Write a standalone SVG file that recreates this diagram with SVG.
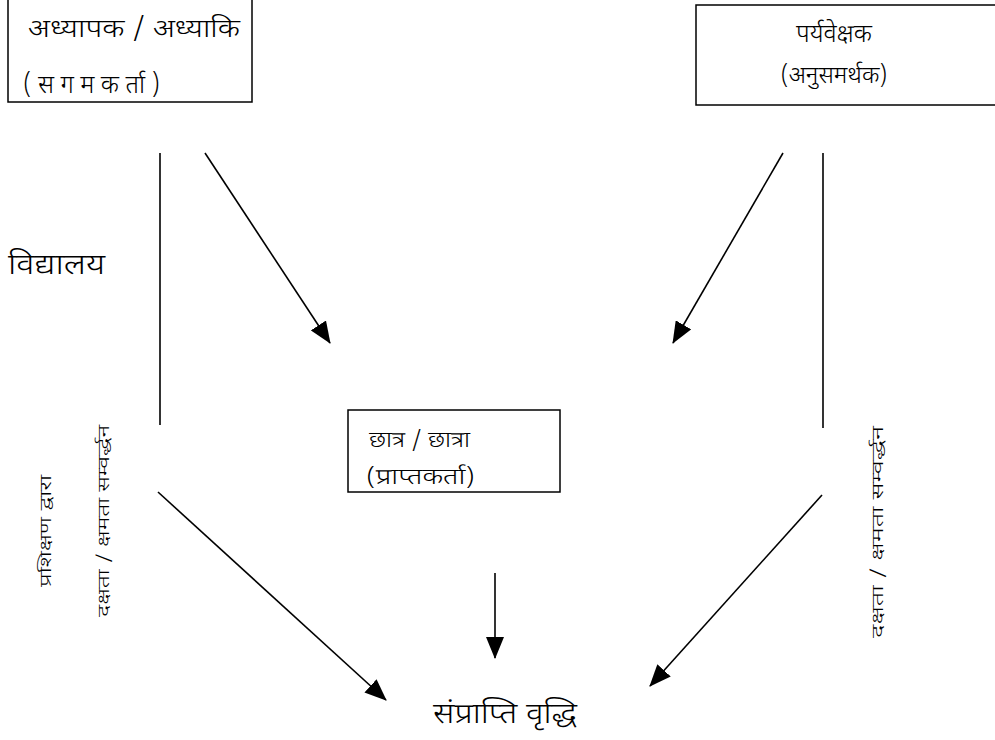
<svg xmlns="http://www.w3.org/2000/svg" width="995" height="740" viewBox="0 0 995 740">
<style>
.box{fill:#fff;stroke:#000;stroke-width:1.5}
.t{font-family:"Noto Sans Devanagari","Noto Sans","Lohit Devanagari",sans-serif;font-weight:300;fill:#000}
.ln{stroke:#000;stroke-width:1.6;fill:none}
</style>
<defs>
<marker id="ahb" markerWidth="22" markerHeight="18" refX="21" refY="9" orient="auto" markerUnits="userSpaceOnUse" viewBox="0 0 22 18">
<path d="M0,0 L22,9 L0,18 Z" fill="#000"/>
</marker>
</defs>
<rect width="995" height="740" fill="#fff"/>
<g id="teacher">
<rect class="box" x="8" y="-2" width="244" height="104"/>
<text class="t" x="28" y="37" font-size="25" textLength="212" lengthAdjust="spacingAndGlyphs">अध्यापक / अध्याकि</text>
<text class="t" x="23" y="93" font-size="25" textLength="137" lengthAdjust="spacing">(सगमकर्ता)</text>
</g>
<g id="supervisor">
<rect class="box" x="696" y="5" width="302" height="100"/>
<text class="t" x="834" y="42" font-size="25" text-anchor="middle">पर्यवेक्षक</text>
<text class="t" x="834" y="83" font-size="24" text-anchor="middle">(अनुसमर्थक)</text>
</g>
<g id="student">
<rect class="box" x="348" y="410" width="212" height="82"/>
<text class="t" x="369" y="447" font-size="22" textLength="101" lengthAdjust="spacingAndGlyphs">छात्र / छात्रा</text>
<text class="t" x="366" y="484" font-size="22" textLength="109" lengthAdjust="spacingAndGlyphs">(प्राप्तकर्ता)</text>
</g>
<g id="school">
<text class="t" x="8" y="274" font-size="28" textLength="97" lengthAdjust="spacingAndGlyphs">विद्यालय</text>
</g>
<g id="growth">
<text class="t" x="433" y="723" font-size="28" textLength="144" lengthAdjust="spacingAndGlyphs">संप्राप्ति वृद्धि</text>
</g>
<g id="labels">
<text class="t" font-size="16" textLength="112" lengthAdjust="spacingAndGlyphs" transform="translate(51,587) rotate(-90)">प्रशिक्षण द्वारा</text>
<text class="t" font-size="16" textLength="192" lengthAdjust="spacingAndGlyphs" transform="translate(109,617) rotate(-90)">दक्षता / क्षमता सम्वर्द्धन</text>
<text class="t" font-size="16" textLength="212" lengthAdjust="spacingAndGlyphs" transform="translate(883,638) rotate(-90)">दक्षता / क्षमता सम्वर्द्धन</text>
</g>
<g id="connectors">
<line class="ln" x1="160" y1="153" x2="160" y2="425"/>
<line class="ln" x1="823" y1="153" x2="823" y2="428"/>
<line class="ln" x1="205" y1="153" x2="330" y2="343" marker-end="url(#ahb)"/>
<line class="ln" x1="783" y1="153" x2="673" y2="343" marker-end="url(#ahb)"/>
<line class="ln" x1="158" y1="492" x2="386" y2="700" marker-end="url(#ahb)"/>
<line class="ln" x1="822" y1="495" x2="650" y2="686" marker-end="url(#ahb)"/>
<line class="ln" x1="495" y1="573" x2="495" y2="658" marker-end="url(#ahb)"/>
</g>
</svg>
